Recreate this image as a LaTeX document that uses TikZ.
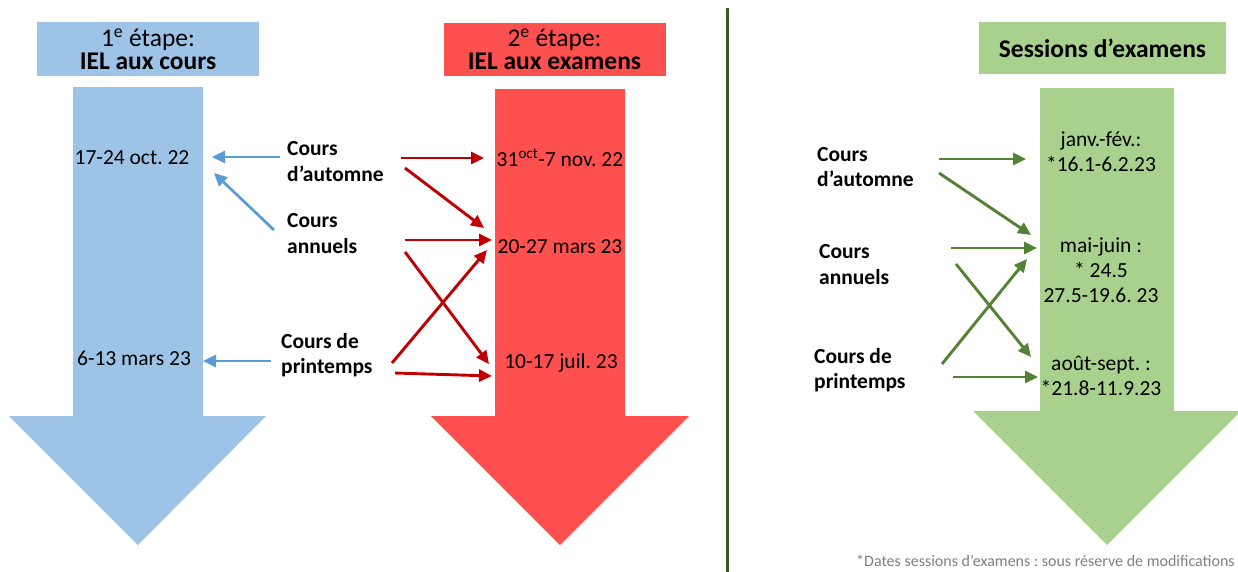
\documentclass[tikz,border=0pt]{standalone}
\usepackage{fontspec}
\setmainfont{Carlito}
\usetikzlibrary{arrows.meta}
\definecolor{cblue}{HTML}{9DC3E6}
\definecolor{cred}{HTML}{FF5050}
\definecolor{cgreen}{HTML}{A9D18E}
\definecolor{ablue}{HTML}{5B9BD5}
\definecolor{ared}{HTML}{C00000}
\definecolor{agreen}{HTML}{548235}
\definecolor{divg}{HTML}{385723}
\definecolor{notegray}{HTML}{7F7F7F}
\frenchspacing
\begin{document}
\begin{tikzpicture}[x=1pt,y=-1pt,
  txt/.style={inner sep=0pt, align=center, font=\fontsize{21.5}{25}\selectfont},
  lbl/.style={inner sep=0pt, align=left, anchor=west, font=\fontsize{21.5}{25.5}\selectfont\bfseries},
  hdr/.style={inner sep=0pt, align=center, font=\fontsize{25.5}{23}\selectfont},
  conn/.style={line width=2.9pt, -{Triangle[length=13pt,width=12pt]}},
  barr/.style={conn, draw=ablue, line width=2.7pt},
  rarr/.style={conn, draw=ared},
  garr/.style={conn, draw=agreen}]
\useasboundingbox (0,0) rectangle (1238,571);
% big arrows
\fill[cblue] (73,87) -- (203,87) -- (203,416) -- (266,416) -- (138,545) -- (9,416) -- (73,416) -- cycle;
\fill[cred] (495,89) -- (625,89) -- (625,416) -- (689,416) -- (560,545) -- (431,416) -- (495,416) -- cycle;
\fill[cgreen] (1040,88) -- (1174,88) -- (1174,411) -- (1241,411) -- (1107,545) -- (973,411) -- (1040,411) -- cycle;
% headers
\node[hdr, fill=cblue, minimum width=222pt, minimum height=54pt] (h1) at (148,49) {1\textsuperscript{e} étape:\\\textbf{IEL aux cours}};
\node[hdr, fill=cred, minimum width=222pt, minimum height=53pt] (h2) at (554.5,49.5) {2\textsuperscript{e} étape:\\\textbf{IEL aux examens}};
\node[hdr, fill=cgreen, minimum width=247pt, minimum height=52pt] (h3) at (1102.5,48) {\textbf{Sessions d’examens}};
% divider
\draw[divg, line width=3pt] (727,8) coordinate (dtop) -- (727,575) coordinate (dbot);
% blue dates
\node[txt] (b1) at (132,158) {17-24 oct. 22};
\node[txt] (b2) at (134,358) {6-13 mars 23};
% middle labels
\node[lbl] (la) at (287,161.5) {Cours\\d’automne};
\node[lbl] (ln) at (287,233.5) {Cours\\annuels};
\node[lbl] (lp) at (281,355) {Cours de\\printemps};
% red dates
\node[txt] (r1) at (560,158) {31\textsuperscript{oct}-7 nov. 22};
\node[txt] (r2) at (560,247) {20-27 mars 23};
\node[txt] (r3) at (561,363) {10-17 juil. 23};
% green labels
\node[lbl] (ga) at (817,167) {Cours\\d’automne};
\node[lbl] (gn) at (819,264.5) {Cours\\annuels};
\node[lbl] (gp) at (814,370) {Cours de\\printemps};
% green dates
\node[txt] (s1) at (1101,151.5) {janv.-fév.:\\*16.1-6.2.23};
\node[txt] (s2) at (1101,270.5) {mai-juin :\\* 24.5\\27.5-19.6. 23};
\node[txt] (s3) at (1101,376) {août-sept. :\\*21.8-11.9.23};
% footnote
\node[inner sep=0pt, anchor=base west, text=notegray, font=\fontsize{16}{18}\selectfont] (fn) at (856,566) {*Dates sessions d’examens : sous réserve de modifications};
% connector end points
\coordinate (ba1) at (280,157); \coordinate (bb1) at (212,157);
\coordinate (ba2) at (274,230); \coordinate (bb2) at (214,173);
\coordinate (ba3) at (271,361); \coordinate (bb3) at (203,361);
\coordinate (ra1) at (401,158); \coordinate (rb1) at (484,158);
\coordinate (ra2) at (405,168); \coordinate (rb2) at (484,228);
\coordinate (ra3) at (405,240); \coordinate (rb3) at (492,240);
\coordinate (ra4) at (405,252); \coordinate (rb4) at (489,364);
\coordinate (ra5) at (392,363); \coordinate (rb5) at (487,250);
\coordinate (ra6) at (395,373); \coordinate (rb6) at (492,376);
\coordinate (ga1) at (939,159); \coordinate (gb1) at (1026,159);
\coordinate (ga2) at (939,173); \coordinate (gb2) at (1031,235);
\coordinate (ga3) at (951,248); \coordinate (gb3) at (1037,248);
\coordinate (ga4) at (956,264); \coordinate (gb4) at (1031,357);
\coordinate (ga5) at (942,364); \coordinate (gb5) at (1027,259);
\coordinate (ga6) at (953,377); \coordinate (gb6) at (1038,377);
% connectors
\draw[barr] (ba1) -- (bb1);
\draw[barr] (ba2) -- (bb2);
\draw[barr] (ba3) -- (bb3);
\draw[rarr] (ra1) -- (rb1);
\draw[rarr] (ra2) -- (rb2);
\draw[rarr] (ra3) -- (rb3);
\draw[rarr] (ra4) -- (rb4);
\draw[rarr] (ra5) -- (rb5);
\draw[rarr] (ra6) -- (rb6);
\draw[garr] (ga1) -- (gb1);
\draw[garr] (ga2) -- (gb2);
\draw[garr] (ga3) -- (gb3);
\draw[garr] (ga4) -- (gb4);
\draw[garr] (ga5) -- (gb5);
\draw[garr] (ga6) -- (gb6);
\end{tikzpicture}
\end{document}
